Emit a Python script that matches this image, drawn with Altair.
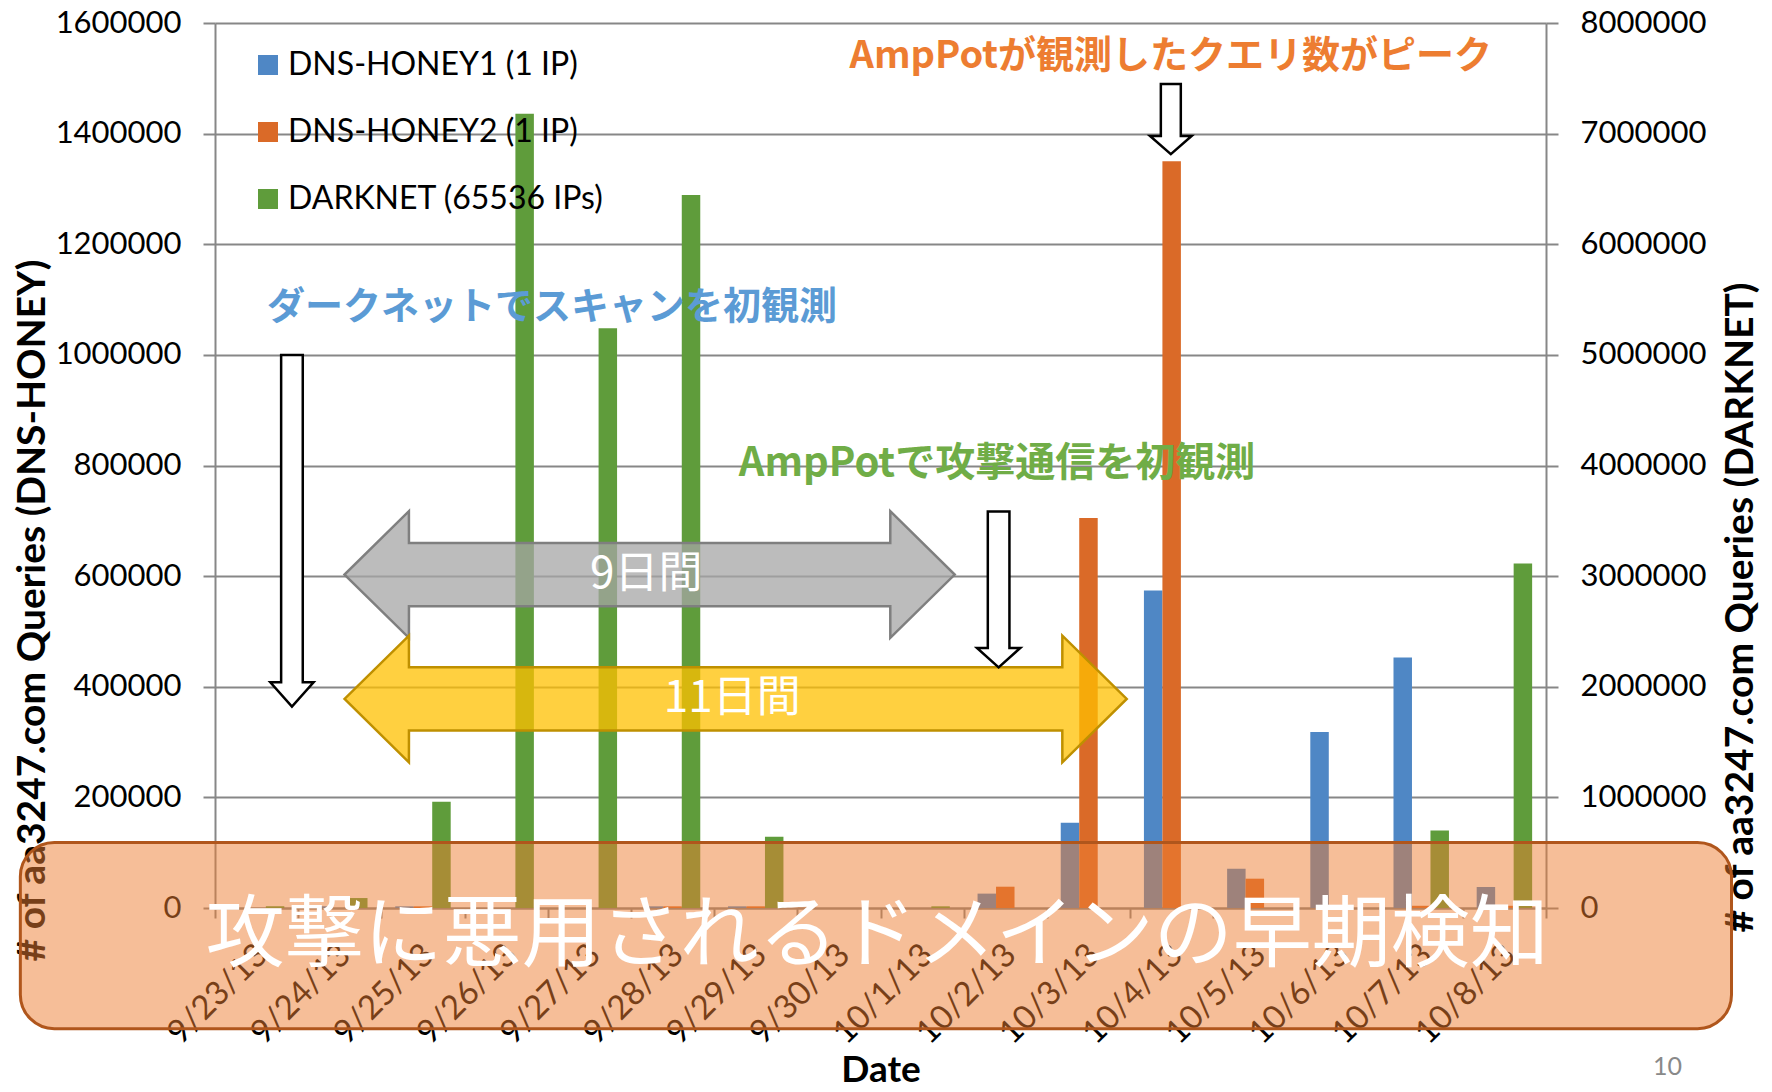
import altair as alt
import pandas as pd

# ---------------- data ----------------
dates = ["9/23/13", "9/24/13", "9/25/13", "9/26/13", "9/27/13", "9/28/13", "9/29/13", "9/30/13",
         "10/1/13", "10/2/13", "10/3/13", "10/4/13", "10/5/13", "10/6/13", "10/7/13", "10/8/13"]
series = ["DNS-HONEY1 (1 IP)", "DNS-HONEY2 (1 IP)", "DARKNET (65536 IPs)"]
honey1 = [0, 3000, 3000, 0, 0, 3000, 3000, 0, 0, 26000, 154000, 574000, 71000, 318000, 453000, 38000]
honey2 = [0, 0, 3000, 0, 0, 3000, 3000, 0, 0, 38500, 705000, 1350000, 53000, 0, 4000, 4000]
darknet = [15000, 90000, 960000, 7180000, 5240000, 6445000, 645000, 0, 15000, 0, 0, 0, 0, 0, 700000, 3115000]
left_ticks = [0, 200000, 400000, 600000, 800000, 1000000, 1200000, 1400000, 1600000]
right_ticks = [0, 1000000, 2000000, 3000000, 4000000, 5000000, 6000000, 7000000, 8000000]
colors = ["#4F87C5", "#DA6A28", "#5F9C3B"]

FONT = "Lato"
JP = "Noto Sans CJK JP"
GRID = "#878787"

rows_lr = []
for i, d in enumerate(dates):
    rows_lr.append({"date": d, "series": series[0], "value": honey1[i]})
    rows_lr.append({"date": d, "series": series[1], "value": honey2[i]})
df_left = pd.DataFrame(rows_lr)
df_right = pd.DataFrame({"date": dates, "series": series[2], "value": darknet})

W, H = 1331, 885
N = len(dates)

xband = alt.Scale(domain=dates, paddingInner=0, paddingOuter=0)
xoff = alt.XOffset("series:N", scale=alt.Scale(domain=series, paddingInner=0, paddingOuter=0.75))
color = alt.Color("series:N", scale=alt.Scale(domain=series, range=colors),
                  legend=alt.Legend(title=None, orient="none", legendX=37, legendY=26,
                                    symbolType="square", symbolSize=400, symbolStrokeWidth=0,
                                    labelFont=FONT, labelFontSize=32, labelColor="#000000",
                                    labelOffset=4, rowPadding=35, labelLimit=600))

left_bars = alt.Chart(df_left).mark_bar().encode(
    x=alt.X("date:N", sort=dates, scale=xband, title="Date",
            axis=alt.Axis(labelAngle=-45, labelAlign="right", labelBaseline="top",
                          labelFont=FONT, labelFontSize=33, labelColor="#000000",
                          tickBand="extent", tickSize=10, tickColor=GRID, tickWidth=2,
                          domainColor=GRID, domainWidth=2, labelPadding=20, labelOffset=-6,
                          titleFont=FONT, titleFontWeight="bold", titleFontSize=37,
                          titleColor="#000000", titleX=W / 2, titleY=162,
                          titleBaseline="middle", titleAlign="center")),
    xOffset=xoff,
    y=alt.Y("value:Q", scale=alt.Scale(domain=[0, 1600000], nice=False, zero=True),
            title="# of aa3247.com Queries  (DNS-HONEY)",
            axis=alt.Axis(orient="left", values=left_ticks, format="d",
                          labelFont=FONT, labelFontSize=31, labelColor="#000000",
                          labelPadding=22, tickSize=12, tickColor=GRID, tickWidth=2,
                          domainColor=GRID, domainWidth=2,
                          grid=True, gridColor=GRID, gridWidth=2,
                          titleFont=FONT, titleFontWeight="bold", titleFontSize=39,
                          titleColor="#000000", titleAngle=270, titleX=-183, titleY=587,
                          titleBaseline="middle", titleAlign="center")),
    color=color,
)

right_bars = alt.Chart(df_right).mark_bar().encode(
    x=alt.X("date:N", sort=dates, scale=xband, axis=None),
    xOffset=xoff,
    y=alt.Y("value:Q", scale=alt.Scale(domain=[0, 8000000], nice=False, zero=True),
            title="# of aa3247.com Queries (DARKNET)",
            axis=alt.Axis(orient="right", values=right_ticks, format="d",
                          labelFont=FONT, labelFontSize=31, labelColor="#000000",
                          labelPadding=22, tickSize=12, tickColor=GRID, tickWidth=2,
                          domainColor=GRID, domainWidth=2, grid=False,
                          titleFont=FONT, titleFontWeight="bold", titleFontSize=39,
                          titleColor="#000000", titleAngle=270, titleX=194, titleY=584,
                          titleBaseline="middle", titleAlign="center")),
    color=color,
)

# ---------------- annotation geometry (category-index x, left-axis y) ----------------
ax = alt.Scale(domain=[0, N], nice=False, zero=False)
ay = alt.Scale(domain=[0, 1600000], nice=False, zero=False)
EPS_X = 0.0005
EPS_Y = 1


def harrow(x0, x1, c, head_len, head_half, shaft_half):
    pts = [(x0, c, c), (x0 + head_len, c - head_half, c + head_half),
           (x0 + head_len + EPS_X, c - shaft_half, c + shaft_half),
           (x1 - head_len - EPS_X, c - shaft_half, c + shaft_half),
           (x1 - head_len, c - head_half, c + head_half), (x1, c, c)]
    return pd.DataFrame(pts, columns=["ax", "ay", "ay2"])


def varrow(cx, ytop, yhb, ytip, shaft_half, head_half, ident):
    pts = [(ytip, cx, cx), (yhb, cx - head_half, cx + head_half),
           (yhb + EPS_Y, cx - shaft_half, cx + shaft_half), (ytop, cx - shaft_half, cx + shaft_half)]
    df = pd.DataFrame(pts, columns=["ay", "ax", "ax2"])
    df["id"] = ident
    return df


def hlayer(df, fill, stroke, opacity):
    return alt.Chart(df).mark_area(fill=fill, stroke=stroke, strokeWidth=2.5, fillOpacity=opacity,
                                   strokeJoin="miter").encode(
        x=alt.X("ax:Q", scale=ax, axis=None),
        y=alt.Y("ay:Q", scale=ay, axis=None, stack=None),
        y2="ay2:Q",
    )


gray_arrow = hlayer(harrow(1.557, 8.892, 602900, 0.774, 114500, 57200), "#A6A6A6", "#7F7F7F", 0.75)
yellow_arrow = hlayer(harrow(1.557, 10.96, 377900, 0.774, 114500, 57200), "#FFC000", "#BF9000", 0.75)

white_df = pd.concat([
    varrow(0.925, 1000000, 408000, 364000, 0.13, 0.26, "a"),
    varrow(9.42, 717000, 470000, 435000, 0.13, 0.26, "b"),
    varrow(11.49, 1489700, 1395700, 1363000, 0.12, 0.25, "c"),
])
white_arrows = alt.Chart(white_df).mark_area(orient="horizontal", fill="#FFFFFF", stroke="#000000",
                                             strokeWidth=2.5, strokeJoin="miter").encode(
    y=alt.Y("ay:Q", scale=ay, axis=None, stack=None),
    x=alt.X("ax:Q", scale=ax, axis=None),
    x2="ax2:Q",
    detail="id:N",
)


def text_layer(txt, x, y, size, col, weight="normal", font=JP):
    df = pd.DataFrame({"ax": [x], "ay": [y], "t": [txt]})
    return alt.Chart(df).mark_text(font=font, fontSize=size, fontWeight=weight, color=col,
                                   align="center", baseline="middle").encode(
        x=alt.X("ax:Q", scale=ax, axis=None),
        y=alt.Y("ay:Q", scale=ay, axis=None),
        text="t:N",
    )


t_dark = text_layer("ダークネットでスキャンを初観測", 4.05, 1083900, 38, "#5B9BD5", "bold")
t_amp1 = text_layer("AmpPotで攻撃通信を初観測", 9.40, 803600, 40, "#70AD47", "bold")
t_amp2 = text_layer("AmpPotが観測したクエリ数がピーク", 11.49, 1538700, 38, "#ED7D31", "bold")
t_9 = text_layer("9日間", 5.185, 602900, 44, "#FFFFFF")
t_11 = text_layer("11日間", 6.218, 377900, 44, "#FFFFFF")

overlay_df = pd.DataFrame({"ax": [-2.34], "ax2": [18.23], "ay": [118300], "ay2": [-218100]})
overlay = alt.Chart(overlay_df).mark_rect(fill="#ED7D31", fillOpacity=0.5, stroke="#B0561C",
                                          strokeWidth=3, cornerRadius=34).encode(
    x=alt.X("ax:Q", scale=ax, axis=None), x2="ax2:Q",
    y=alt.Y("ay:Q", scale=ay, axis=None), y2="ay2:Q",
)
t_main = text_layer("攻撃に悪用されるドメインの早期検知", 7.96, -51700, 79, "#FFFFFF")
t_page = text_layer("10", 17.46, -286800, 25, "#898989", "normal", FONT)

chart = alt.layer(
    left_bars, right_bars, gray_arrow, yellow_arrow, white_arrows,
    t_9, t_11, t_dark, t_amp1, t_amp2, overlay, t_main, t_page,
).resolve_scale(x="independent", y="independent").properties(
    width=W, height=H,
    autosize=alt.AutoSizeParams(type="none"),
    padding={"left": 215, "top": 23, "right": 1772 - 215 - W, "bottom": 1092 - 23 - H},
    background="#FFFFFF",
).configure_view(stroke=None)

chart.save("out.html", embed_options={"renderer": "svg", "actions": False})
